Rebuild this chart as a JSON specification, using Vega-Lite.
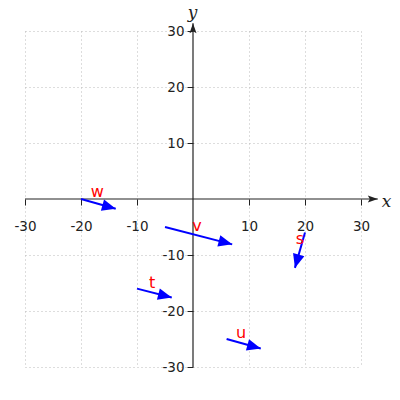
{
  "$schema": "https://vega.github.io/schema/vega-lite/v6.json",
  "width": 336,
  "height": 336,
  "autosize": {"type": "none"},
  "padding": {"left": 25, "top": 31, "right": 39, "bottom": 33},
  "config": {"view": {"stroke": null}, "font": "DejaVu Sans"},
  "datasets": {
    "vectors": [
      {"name": "w", "x": -20, "y": 0, "x2": -13.8, "y2": -1.75, "lx": -17.1, "ly": 1.3},
      {"name": "v", "x": -5, "y": -5, "x2": 7.0, "y2": -8.1, "lx": 0.7, "ly": -4.8},
      {"name": "s", "x": 20, "y": -6, "x2": 18.2, "y2": -12.3, "lx": 19.1, "ly": -7.2},
      {"name": "t", "x": -10, "y": -16, "x2": -3.8, "y2": -17.6, "lx": -7.3, "ly": -15},
      {"name": "u", "x": 6, "y": -25, "x2": 12.1, "y2": -26.7, "lx": 8.6, "ly": -23.9}
    ],
    "axes": [
      {"axis": "x", "x": -30, "y": 0, "x2": 33.0, "y2": 0},
      {"axis": "y", "x": 0, "y": -30, "x2": 0, "y2": 31.4}
    ]
  },
  "encoding": {
    "x": {
      "field": "x", "type": "quantitative",
      "scale": {"domain": [-30, 30], "nice": false, "zero": false},
      "axis": {
        "orient": "bottom", "offset": -168,
        "values": [-30, -20, -10, 10, 20, 30],
        "labelExpr": "'' + datum.value", "labelFlush": false, "labelOverlap": false,
        "domain": false, "tickSize": 6, "tickColor": "#222", "tickWidth": 1,
        "labelFontSize": 13.5, "labelColor": "#222", "labelPadding": 14,
        "grid": true, "gridDash": [1, 3], "gridColor": "#bbb", "gridWidth": 1,
        "title": "x", "titleFont": "DejaVu Serif", "titleFontStyle": "italic",
        "titleFontWeight": "normal", "titleFontSize": 17, "titleColor": "#222",
        "titleX": 361, "titleY": 7, "titleAlign": "center", "titleBaseline": "alphabetic"
      }
    },
    "y": {
      "field": "y", "type": "quantitative",
      "scale": {"domain": [-30, 30], "nice": false, "zero": false},
      "axis": {
        "orient": "left", "offset": -168,
        "values": [-30, -20, -10, 10, 20, 30],
        "labelExpr": "'' + datum.value", "labelFlush": false, "labelOverlap": false,
        "domain": false, "tickSize": 6, "tickColor": "#222", "tickWidth": 1,
        "labelFontSize": 13.5, "labelColor": "#222", "labelPadding": 3,
        "grid": true, "gridDash": [1, 3], "gridColor": "#bbb", "gridWidth": 1,
        "title": "y", "titleFont": "DejaVu Serif", "titleFontStyle": "italic",
        "titleFontWeight": "normal", "titleFontSize": 17, "titleColor": "#222",
        "titleAngle": 0, "titleX": -1, "titleY": -14, "titleAlign": "center", "titleBaseline": "alphabetic"
      }
    }
  },
  "layer": [
    {
      "data": {"name": "axes"},
      "mark": {"type": "rule", "color": "#222", "strokeWidth": 1.2},
      "encoding": {"x2": {"field": "x2"}, "y2": {"field": "y2"}}
    },
    {
      "data": {"name": "axes"},
      "transform": [{"calculate": "atan2(datum.x2 - datum.x, datum.y2 - datum.y) * 180 / PI", "as": "ang"}],
      "mark": {"type": "point", "shape": "M0,0 L0.7,2 L0,1.6 L-0.7,2 Z", "filled": true, "color": "#222", "opacity": 1, "size": 100, "strokeWidth": 0},
      "encoding": {
        "x": {"field": "x2", "type": "quantitative"},
        "y": {"field": "y2", "type": "quantitative"},
        "angle": {"field": "ang", "type": "quantitative", "scale": null}
      }
    },
    {
      "data": {"name": "vectors"},
      "mark": {"type": "rule", "color": "blue", "strokeWidth": 2},
      "encoding": {"x2": {"field": "x2"}, "y2": {"field": "y2"}}
    },
    {
      "data": {"name": "vectors"},
      "transform": [{"calculate": "atan2(datum.x2 - datum.x, datum.y2 - datum.y) * 180 / PI", "as": "ang"}],
      "mark": {"type": "point", "shape": "M0,0 L0.85,2 L-0.85,2 Z", "filled": true, "color": "blue", "opacity": 1, "size": 190, "strokeWidth": 0},
      "encoding": {
        "x": {"field": "x2", "type": "quantitative"},
        "y": {"field": "y2", "type": "quantitative"},
        "angle": {"field": "ang", "type": "quantitative", "scale": null}
      }
    },
    {
      "data": {"name": "vectors"},
      "mark": {"type": "text", "color": "red", "fontSize": 16, "align": "center", "baseline": "middle", "font": "DejaVu Sans"},
      "encoding": {
        "x": {"field": "lx", "type": "quantitative"},
        "y": {"field": "ly", "type": "quantitative"},
        "text": {"field": "name"}
      }
    }
  ]
}
